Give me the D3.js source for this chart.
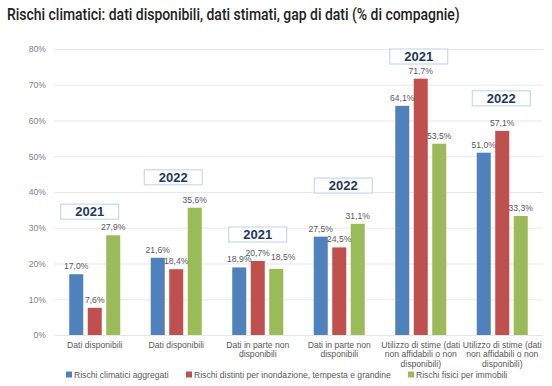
<!DOCTYPE html>
<html>
<head>
<meta charset="utf-8">
<script src="https://cdn.jsdelivr.net/npm/d3@7/dist/d3.min.js"></script>
<style>
  body { margin: 0; background: #fff; }
  svg { display: block; }
</style>
</head>
<body>
<div class="vis-holder"></div>
<script>
// data
var categories = [
  ["Dati disponibili"],
  ["Dati disponibili"],
  ["Dati in parte non", "disponibili"],
  ["Dati in parte non", "disponibili"],
  ["Utilizzo di stime (dati", "non affidabili o non", "disponibili)"],
  ["Utilizzo di stime (dati", "non affidabili o non", "disponibili)"]
];
var years = ["2021", "2022", "2021", "2022", "2021", "2022"];
var seriesNames = [
  "Rischi climatici aggregati",
  "Rischi distinti per inondazione, tempesta e grandine",
  "Rischi fisici per immobili"
];
var aggregati = [17.0, 21.6, 18.9, 27.5, 64.1, 51.0];
var distinti = [7.6, 18.4, 20.7, 24.5, 71.7, 57.1];
var immobili = [27.9, 35.6, 18.5, 31.1, 53.5, 33.3];
var yTicks = [0, 10, 20, 30, 40, 50, 60, 70, 80];

var series = [aggregati, distinti, immobili];
var colors = ["#4f81bd", "#c0504d", "#9bbb59"];

var width = 552;
var height = 386;
var small = "8.6px";
var sans = "Arial, 'Liberation Sans', sans-serif";

var svg = d3.select(".vis-holder")
  .append("svg")
  .attr("width", width)
  .attr("height", height);

// title, squeezed horizontally to the width of the original condensed face
var title = svg.append("text")
  .attr("x", 0)
  .attr("y", 0)
  .style("font-family", "Roboto, 'Open Sans', sans-serif")
  .style("font-weight", 500)
  .style("font-size", "16px")
  .style("fill", "#222")
  .text("Rischi climatici: dati disponibili, dati stimati, gap di dati (% di compagnie)");
var natural = title.node().getComputedTextLength();
title.attr("transform", "translate(7,20) scale(" + (453 / natural) + ",1)");

var yScale = d3.scaleLinear().domain([0, 80]).range([335, 49]);
var xScale = d3.scaleBand().domain(d3.range(categories.length)).range([54, 543]);
var x1 = d3.scaleBand().domain([0, 1, 2]).range([-25.5, 25.5]).paddingInner(0.243);

// grid
var yAxis = d3.axisLeft(yScale)
  .tickValues(yTicks)
  .tickSize(-(543 - 54))
  .tickPadding(8)
  .tickFormat(function(d){ return d + "%"; });

var gy = svg.append("g")
  .attr("class", "y axis")
  .attr("transform", "translate(54,0)")
  .call(yAxis);
gy.select(".domain").remove();
gy.selectAll(".tick line").attr("stroke", "#e8e8e8").attr("stroke-width", 1.2);
gy.selectAll(".tick text")
  .style("font-family", sans)
  .style("font-size", small)
  .style("fill", "#808080");

// bars
series.forEach(function(values, s){
  svg.append("g")
    .selectAll("rect")
    .data(values)
    .enter()
    .append("rect")
    .attr("x", function(d, i){ return xScale(i) + xScale.bandwidth() / 2 + x1(s); })
    .attr("y", function(d){ return yScale(d); })
    .attr("width", x1.bandwidth())
    .attr("height", function(d){ return yScale(0) - yScale(d); })
    .attr("fill", colors[s]);
});

// data labels
var fmt = function(d){ return d.toFixed(1).replace(".", ",") + "%"; };
series.forEach(function(values, s){
  svg.append("g")
    .selectAll("text")
    .data(values)
    .enter()
    .append("text")
    .attr("x", function(d, i){
      var cx = xScale(i) + xScale.bandwidth() / 2 + x1(s) + x1.bandwidth() / 2;
      // the one label moved aside in the original
      if (s === 2 && i === 2) cx += 7;
      return cx;
    })
    .attr("y", function(d, i){
      var y = yScale(d) - 5;
      if (s === 2 && i === 2) y -= 4;
      return y;
    })
    .attr("text-anchor", "middle")
    .style("font-family", sans)
    .style("font-size", small)
    .style("fill", "#595959")
    .text(fmt);
});

// category labels
svg.append("g")
  .selectAll("text")
  .data(categories)
  .enter()
  .append("text")
  .attr("text-anchor", "middle")
  .attr("transform", function(d, i){ return "translate(" + (xScale(i) + xScale.bandwidth() / 2) + ",348)"; })
  .style("font-family", sans)
  .style("font-size", small)
  .style("fill", "#595959")
  .selectAll("tspan")
  .data(function(d){ return d; })
  .enter()
  .append("tspan")
  .attr("x", 0)
  .attr("y", function(d, j){ return j * 9.4; })
  .text(function(d){ return d; });

// year boxes, placed in value units above each group
var yearBoxAt = [36.6, 46.2, 30.2, 43.9, 80.0, 68.3];
var yearShift = [-5, -3, 0, 4, -2, -1];
var boxes = svg.append("g")
  .selectAll("g")
  .data(years)
  .enter()
  .append("g")
  .attr("transform", function(d, i){
    return "translate(" + (xScale(i) + xScale.bandwidth() / 2 + yearShift[i]) + "," + yScale(yearBoxAt[i]) + ")";
  });
boxes.append("rect")
  .attr("x", -29)
  .attr("y", 0)
  .attr("width", 58)
  .attr("height", 15)
  .attr("fill", "#fff")
  .attr("stroke", "#bdd0ea")
  .attr("stroke-width", 1);
boxes.append("text")
  .attr("x", 0)
  .attr("y", 12)
  .attr("text-anchor", "middle")
  .style("font-family", sans)
  .style("font-weight", "bold")
  .style("font-size", "13px")
  .style("fill", "#1f3864")
  .text(function(d){ return d; });

// legend
var legendX = [66, 186, 408];
var legend = svg.append("g")
  .selectAll("g")
  .data(seriesNames)
  .enter()
  .append("g")
  .attr("transform", function(d, i){ return "translate(" + legendX[i] + ",378)"; });
legend.append("rect")
  .attr("x", 0)
  .attr("y", -6.5)
  .attr("width", 6)
  .attr("height", 6)
  .attr("fill", function(d, i){ return colors[i]; });
legend.append("text")
  .attr("x", 8)
  .attr("y", 0)
  .style("font-family", sans)
  .style("font-size", small)
  .style("fill", "#595959")
  .text(function(d){ return d; });
</script>
</body>
</html>
